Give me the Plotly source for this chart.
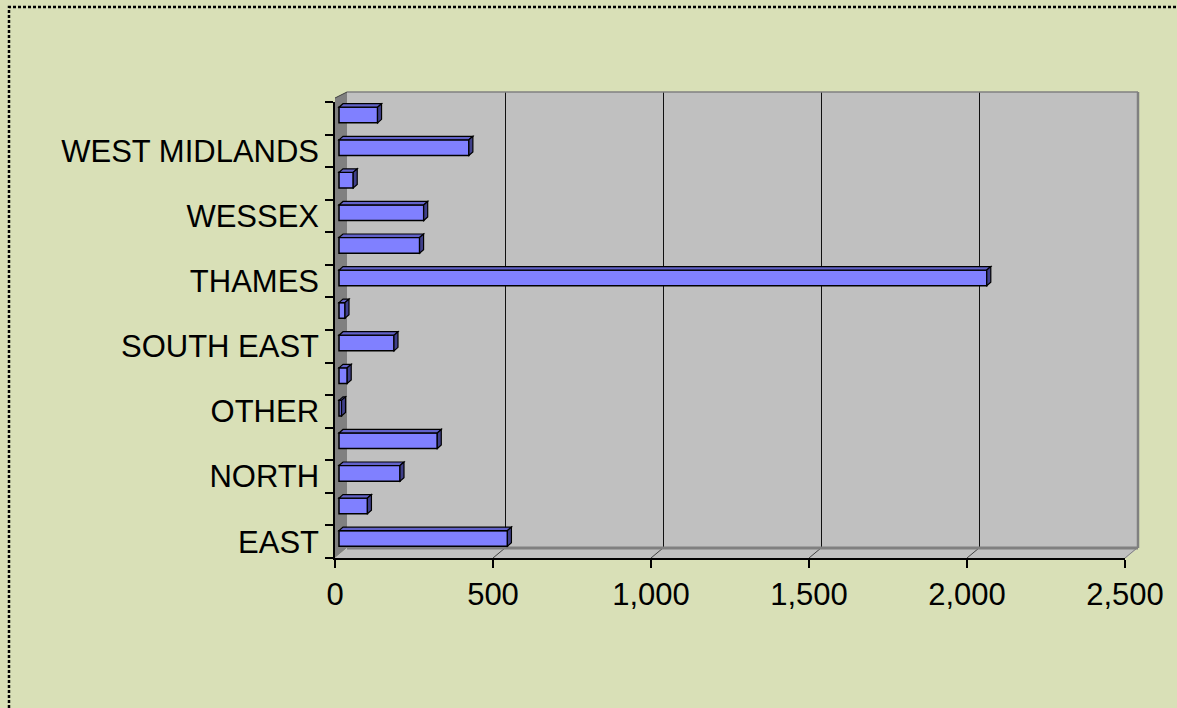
import plotly.graph_objects as go

# ---------------- data ----------------
regions = ["EAST", "EAST MIDLANDS", "NORTH", "NORTH WEST", "OTHER", "SOUTH",
           "SOUTH EAST", "SOUTH WEST", "THAMES", "WALES", "WESSEX", "WEST",
           "WEST MIDLANDS", "YORKSHIRE"]
values = [533, 90, 193, 311, 8, 26, 174, 19, 2050, 255, 268, 45, 411, 122]
shown_labels = ["EAST", "NORTH", "OTHER", "SOUTH EAST", "THAMES", "WESSEX",
                "WEST MIDLANDS"]
x_ticks = [0, 500, 1000, 1500, 2000, 2500]

# ---------------- geometry / style ----------------
W, H = 1177, 708
L, R, T, B = 335, 1125, 102, 558          # front plane of the 3-D box (px)
PW, PH = R - L, B - T
XMAX = 2500
NCAT = len(regions)
WALL_DX, WALL_DY = 12, 10                 # depth of the box (px)
BAR_DX, BAR_DY = 4, 3.5                   # depth of bars (px)
px_per_x = PW / XMAX
px_per_cat = PH / NCAT

PAPER = "#D9E0B7"
WALL = "#C0C0C0"
SIDE = "#808080"
BAR = "#8080FF"
BAR_TOP = "#6262C8"
BAR_SIDE = "#40408A"
FONT = "Liberation Sans, Arial, sans-serif"


def px(xp):
    return (xp - L) / PW


def py(yp):
    return (B - yp) / PH


ypos = list(range(NCAT))
bar_base = BAR_DX / px_per_x
bar_w = 0.48
bar_off = -0.14
ddx = BAR_DX / px_per_x
ddy = BAR_DY / px_per_cat

fig = go.Figure()
fig.add_trace(go.Bar(
    x=values, y=ypos, orientation="h", base=bar_base,
    width=bar_w, offset=bar_off,
    marker=dict(color=BAR, line=dict(color="black", width=1.5)),
    hoverinfo="skip", showlegend=False,
))

shapes = []
# back wall
wx0, wx1 = px(L + WALL_DX), px(R + WALL_DX + 1)
wy0, wy1 = py(B - WALL_DY), py(T - WALL_DY)
shapes.append(dict(type="rect", xref="paper", yref="paper", x0=wx0, x1=wx1,
                   y0=wy0, y1=wy1, fillcolor=WALL, line=dict(width=0),
                   layer="below"))
# side wall
shapes.append(dict(type="path", xref="paper", yref="paper",
                   path=f"M{px(L)},{py(B)} L{px(L+WALL_DX)},{py(B-WALL_DY)} "
                        f"L{px(L+WALL_DX)},{py(T-WALL_DY)} L{px(L)},{py(T-4)} Z",
                   fillcolor=SIDE, line=dict(width=0), layer="below"))
# floor
shapes.append(dict(type="path", xref="paper", yref="paper",
                   path=f"M{px(L)},{py(B)} L{px(R+1)},{py(B)} "
                        f"L{px(R+WALL_DX+1)},{py(B-WALL_DY)} L{px(L+WALL_DX)},{py(B-WALL_DY)} Z",
                   fillcolor=WALL, line=dict(width=0), layer="below"))
# gridlines on back wall
for v in x_ticks[1:-1]:
    gx = px(round(L + v * px_per_x + WALL_DX) + 0.5)
    shapes.append(dict(type="line", xref="paper", yref="paper", x0=gx, x1=gx,
                       y0=wy0, y1=wy1, line=dict(color="#101010", width=1),
                       layer="below"))
# floor diagonals at ticks
for v in x_ticks[1:]:
    fx = L + v * px_per_x
    shapes.append(dict(type="line", xref="paper", yref="paper",
                       x0=px(fx), y0=py(B), x1=px(fx + WALL_DX), y1=py(B - WALL_DY),
                       line=dict(color="#404040" if v < XMAX else SIDE, width=1),
                       layer="below"))
# wall edges
shapes.append(dict(type="line", xref="paper", yref="paper", x0=wx0, x1=wx1,
                   y0=wy0, y1=wy0, line=dict(color=SIDE, width=3), layer="below"))
shapes.append(dict(type="line", xref="paper", yref="paper", x0=wx1, x1=wx1,
                   y0=wy0, y1=wy1, line=dict(color=SIDE, width=2.5), layer="below"))
shapes.append(dict(type="line", xref="paper", yref="paper", x0=wx0, x1=wx1,
                   y0=wy1, y1=wy1, line=dict(color=SIDE, width=1.5), layer="below"))
shapes.append(dict(type="line", xref="paper", yref="paper", x0=px(L), x1=wx0,
                   y0=py(T - 4), y1=wy1, line=dict(color="#404040", width=1),
                   layer="below"))

# 3-D faces of the bars, derived from the data values
for yv, v in zip(ypos, values):
    x0 = bar_base
    x1 = bar_base + v
    yb = yv + bar_off
    yt = yb + bar_w
    shapes.append(dict(type="path", xref="x", yref="y",
                       path=f"M{x0},{yt} L{x1},{yt} L{x1+ddx},{yt+ddy} L{x0+ddx},{yt+ddy} Z",
                       fillcolor=BAR_TOP, line=dict(color="black", width=1.2),
                       layer="above"))
    shapes.append(dict(type="path", xref="x", yref="y",
                       path=f"M{x1},{yb} L{x1},{yt} L{x1+ddx},{yt+ddy} L{x1+ddx},{yb+ddy} Z",
                       fillcolor=BAR_SIDE, line=dict(color="black", width=1.2),
                       layer="above"))

# dotted chart border
shapes.append(dict(type="rect", xref="paper", yref="paper",
                   x0=px(9), x1=px(W + 20), y0=py(H + 20), y1=py(7),
                   line=dict(color="black", width=2.5, dash="3px,2px"),
                   fillcolor="rgba(0,0,0,0)", layer="above"))

label_pos = [regions.index(n) for n in shown_labels]

fig.update_layout(
    width=W, height=H,
    margin=dict(l=L, r=W - R, t=T, b=H - B, pad=0),
    paper_bgcolor=PAPER, plot_bgcolor="rgba(0,0,0,0)",
    font=dict(family=FONT, size=31, color="black"),
    shapes=shapes,
    bargap=0.5,
    xaxis=dict(range=[0, XMAX], tickvals=x_ticks, tickformat=",",
               showgrid=False, zeroline=False, showline=True,
               linecolor="black", linewidth=1.5, ticks="outside", ticklen=8,
               tickcolor="black", tickwidth=1.5, ticklabelstandoff=0,
               tickfont=dict(size=31)),
    yaxis=dict(range=[-0.5, NCAT - 0.5], tickvals=label_pos,
               ticktext=shown_labels, ticks="", showgrid=False,
               zeroline=False, showline=True, linecolor="black", linewidth=1.5,
               ticklabelstandoff=8, tickfont=dict(size=31),
               minor=dict(tickmode="linear", tick0=-0.5, dtick=1,
                          ticks="outside", ticklen=8, tickcolor="black",
                          tickwidth=1.5, showgrid=False)),
)

fig.write_html(
    "out.html",
    config={"displayModeBar": False},
    post_script=f"document.body.style.background='{PAPER}';"
                "document.body.style.margin='0';"
                "document.body.style.overflow='hidden';",
)
